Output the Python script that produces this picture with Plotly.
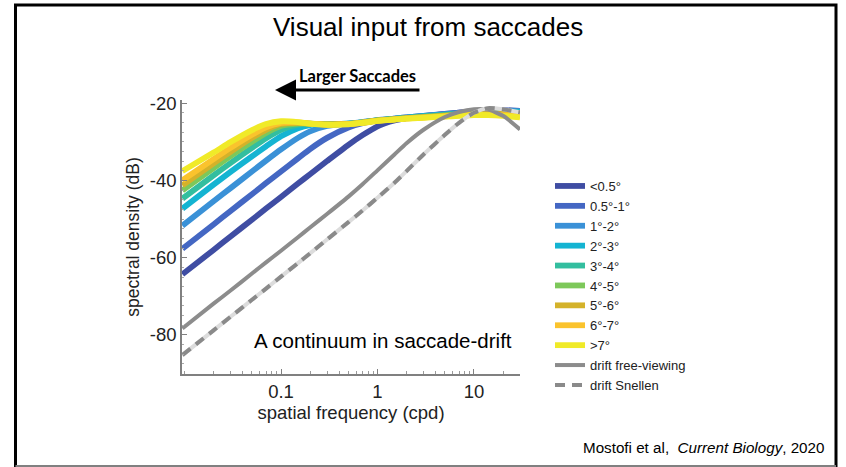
import plotly.graph_objects as go

# ---------------- data ----------------
FREQ = [0.0095, 0.02, 0.03, 0.05, 0.07, 0.1, 0.15, 0.2, 0.3, 0.5, 0.7,
        1, 1.5, 2, 3, 5, 7, 10, 14, 20, 30]

SACC_LT_05 = [-64.3, -58.0, -54.5, -50.2, -47.3, -44.3, -40.8, -38.4, -35.0, -30.8, -28.3,
              -26.0, -24.5, -23.9, -23.4, -22.8, -22.5, -22.2, -22.0, -21.9, -22.0]
SACC_05_1 = [-57.7, -51.4, -47.9, -43.6, -40.7, -37.7, -34.3, -31.9, -29.0, -26.3, -25.2,
             -24.5, -24.0, -23.7, -23.3, -22.8, -22.5, -22.2, -22.0, -21.9, -22.0]
SACC_1_2 = [-51.7, -45.4, -42.0, -37.7, -34.9, -32.0, -29.0, -27.3, -25.9, -25.3, -24.9,
            -24.4, -24.0, -23.7, -23.3, -22.9, -22.6, -22.3, -22.1, -22.0, -22.1]
SACC_2_3 = [-47.3, -41.1, -37.8, -33.8, -31.2, -28.6, -26.5, -25.7, -25.4, -25.3, -25.0,
            -24.5, -24.1, -23.8, -23.4, -23.0, -22.7, -22.4, -22.2, -22.1, -22.3]
SACC_3_4 = [-44.7, -38.7, -35.5, -31.6, -29.1, -26.9, -25.6, -25.4, -25.4, -25.3, -25.0,
            -24.5, -24.1, -23.8, -23.5, -23.1, -22.8, -22.5, -22.3, -22.3, -22.5]
SACC_4_5 = [-42.6, -36.8, -33.7, -30.0, -27.7, -25.9, -25.3, -25.3, -25.5, -25.4, -25.0,
            -24.5, -24.1, -23.9, -23.6, -23.2, -22.9, -22.7, -22.5, -22.5, -22.7]
SACC_5_6 = [-41.3, -35.6, -32.6, -29.0, -26.9, -25.4, -25.1, -25.3, -25.5, -25.4, -25.0,
            -24.5, -24.2, -23.9, -23.7, -23.3, -23.1, -22.9, -22.8, -22.8, -23.0]
SACC_6_7 = [-40.0, -34.5, -31.6, -28.2, -26.3, -25.1, -25.0, -25.3, -25.6, -25.4, -25.1,
            -24.6, -24.2, -24.0, -23.7, -23.4, -23.2, -23.0, -23.0, -23.1, -23.3]
SACC_GT_7 = [-37.6, -32.8, -30.1, -27.0, -25.4, -24.7, -24.9, -25.3, -25.6, -25.5, -25.1,
             -24.6, -24.3, -24.0, -23.8, -23.5, -23.3, -23.1, -23.1, -23.3, -23.7]
DRIFT_FREE = [-78.3, -71.9, -68.5, -64.1, -61.2, -58.2, -54.7, -52.2, -48.7, -44.2, -41.0,
              -37.4, -33.3, -30.4, -26.9, -23.6, -22.3, -21.6, -21.7, -23.3, -26.8]
DRIFT_SNELLEN = [-85.2, -78.8, -75.3, -70.9, -68.0, -64.9, -61.4, -58.9, -55.3, -50.8, -47.8,
                 -44.5, -40.6, -37.6, -33.3, -28.2, -25.1, -22.5, -21.3, -21.6, -22.4]

SACC_NAMES = ["<0.5°", "0.5°-1°", "1°-2°", "2°-3°", "3°-4°",
              "4°-5°", "5°-6°", "6°-7°", ">7°"]
SACC_SERIES = [SACC_LT_05, SACC_05_1, SACC_1_2, SACC_2_3, SACC_3_4,
               SACC_4_5, SACC_5_6, SACC_6_7, SACC_GT_7]
SACC_COLORS = ["#3F4DA3", "#4467C3", "#3A91D7", "#14B4D2", "#33BE9F",
               "#7DC85A", "#D4B22A", "#FAC32D", "#F0EA28"]

X_TICKS = [0.1, 1, 10]
X_TICK_TEXT = ["0.1", "1", "10"]
Y_TICKS = [-80, -60, -40, -20]
Y_TICK_TEXT = ["-80", "-60", "-40", "-20"]

# ---------------- layout geometry ----------------
W, H = 846, 467
L, R, T, B = 182, 326, 100, 93
PW, PH = W - L - R, H - T - B


def px(xp):
    return (xp - L) / PW


def py(yp):
    return (H - B - yp) / PH


FONT = "Liberation Sans, Arial, Helvetica, sans-serif"
SMOOTH = 0.6

fig = go.Figure()

for name, ys, col in zip(SACC_NAMES, SACC_SERIES, SACC_COLORS):
    fig.add_trace(go.Scatter(
        x=FREQ, y=ys, name=name, mode="lines",
        line=dict(color=col, width=5.8, shape="spline", smoothing=SMOOTH),
    ))

fig.add_trace(go.Scatter(
    x=FREQ, y=DRIFT_FREE, name="drift free-viewing", mode="lines",
    line=dict(color="#8C8C8C", width=4, shape="spline", smoothing=SMOOTH),
))
fig.add_trace(go.Scatter(
    x=FREQ, y=DRIFT_SNELLEN, name="drift Snellen underlay", mode="lines",
    showlegend=False, hoverinfo="skip",
    line=dict(color="#DCDCDC", width=4, shape="spline", smoothing=SMOOTH),
))
fig.add_trace(go.Scatter(
    x=FREQ, y=DRIFT_SNELLEN, name="drift Snellen", mode="lines",
    line=dict(color="#8A8A8A", width=4, dash="10px,7px", shape="spline", smoothing=SMOOTH),
))

fig.update_xaxes(
    type="log", range=[-2.026, 1.477],
    tickvals=X_TICKS, ticktext=X_TICK_TEXT,
    ticks="inside", ticklen=5, tickcolor="#808080", tickwidth=1,
    minor=dict(ticks="inside", ticklen=3, tickcolor="#9a9a9a", dtick="D1", showgrid=False),
    showline=True, linecolor="#808080", linewidth=1.5, mirror=False,
    showgrid=False, zeroline=False,
    tickfont=dict(family=FONT, size=18.5, color="#222222"),
    title=dict(text="spatial frequency (cpd)", font=dict(family=FONT, size=18.5, color="#222222"),
               standoff=4),
)
fig.update_yaxes(
    range=[-90.1, -19.2],
    tickvals=Y_TICKS, ticktext=Y_TICK_TEXT,
    ticks="inside", ticklen=5, tickcolor="#808080", tickwidth=1,
    minor=dict(ticks="inside", ticklen=2, tickcolor="#aaaaaa", dtick=2.5, showgrid=False),
    showline=True, linecolor="#808080", linewidth=1.5, mirror=False,
    showgrid=False, zeroline=False,
    tickfont=dict(family=FONT, size=18.5, color="#222222"),
    title=dict(text="spectral density (dB)", font=dict(family=FONT, size=17.5, color="#222222"),
               standoff=6),
)

annotations = [
    dict(text="Visual input from saccades", x=px(428), y=py(27), xref="paper", yref="paper",
         showarrow=False, font=dict(family=FONT, size=26, color="#000000"),
         xanchor="center", yanchor="middle"),
    dict(text="<b>Larger Saccades</b>", x=px(357), y=py(76), xref="paper", yref="paper",
         showarrow=False, font=dict(family="Lato, Open Sans, sans-serif", size=16.5, color="#000000"),
         xanchor="center", yanchor="middle"),
    dict(text="", x=px(275), y=py(90), xref="paper", yref="paper",
         showarrow=True, ax=146, ay=0, axref="pixel", ayref="pixel",
         arrowhead=2, arrowsize=1.4, arrowwidth=3, arrowcolor="#000000"),
    dict(text="A continuum in saccade-drift", x=px(383), y=py(340), xref="paper", yref="paper",
         showarrow=False, font=dict(family=FONT, size=20.5, color="#000000"),
         xanchor="center", yanchor="middle"),
    dict(text="Mostofi et al,  <i>Current Biology</i>, 2020", x=px(826), y=py(447),
         xref="paper", yref="paper", showarrow=False,
         font=dict(family=FONT, size=15.2, color="#000000"),
         xanchor="right", yanchor="middle"),
]

shapes = [
    dict(type="rect", xref="paper", yref="paper",
         x0=px(15.5), x1=px(836), y0=py(5), y1=py(472),
         line=dict(color="#000000", width=3), fillcolor="rgba(0,0,0,0)", layer="below"),
    dict(type="line", xref="paper", yref="paper",
         x0=px(15.5), x1=px(836), y0=py(466), y1=py(466),
         line=dict(color="#808080", width=2)),
]

fig.update_layout(
    width=W, height=H,
    margin=dict(l=L, r=R, t=T, b=B),
    paper_bgcolor="white", plot_bgcolor="white",
    font=dict(family=FONT, color="#222222"),
    annotations=annotations, shapes=shapes,
    legend=dict(x=px(550), y=py(171), xanchor="left", yanchor="top",
                bgcolor="rgba(0,0,0,0)", borderwidth=0, tracegroupgap=0,
                itemwidth=30, font=dict(family=FONT, size=13, color="#222222")),
    showlegend=True,
)

fig.write_html("out.html")
